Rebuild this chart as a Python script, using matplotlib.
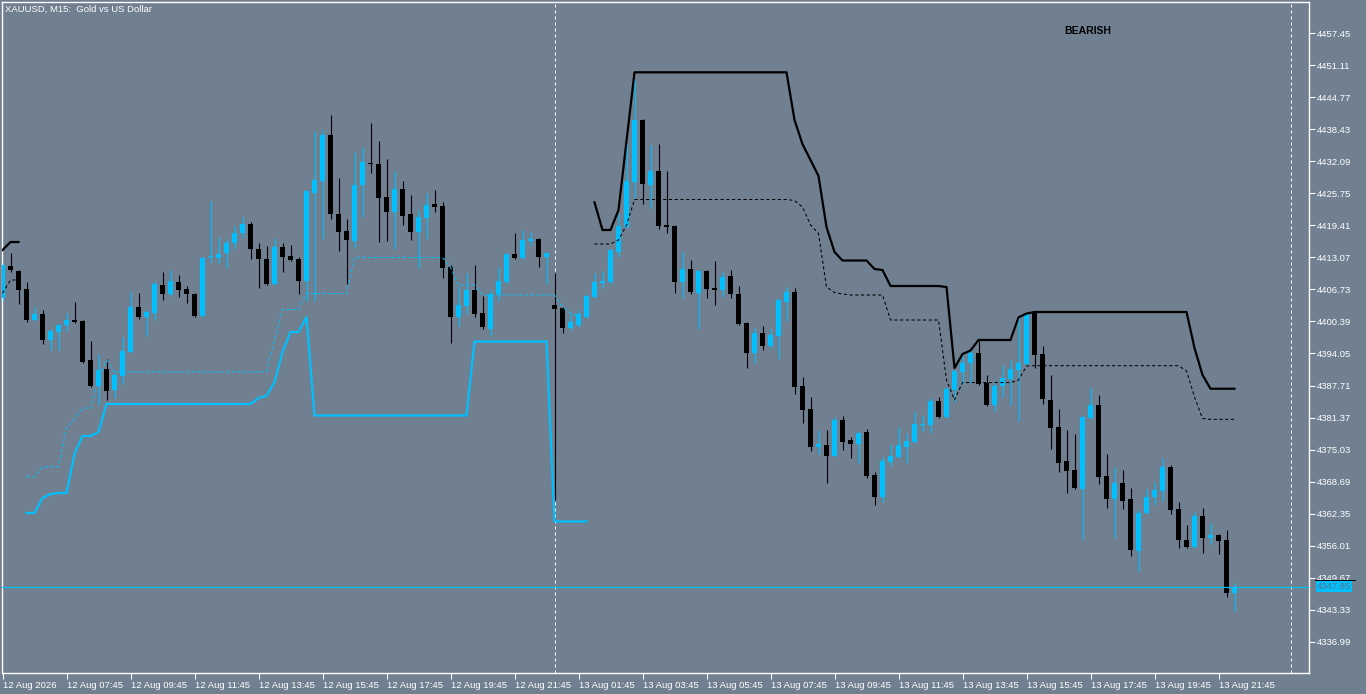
import matplotlib
matplotlib.use('Agg')
import matplotlib.pyplot as plt
import matplotlib.transforms as mtransforms

plt.rcParams['font.family'] = ['Liberation Sans', 'DejaVu Sans']

BG = '#708090'
BULL = '#00BFFF'
BEAR = '#000000'

# ---------------- candles (M15 bars, index 0 = 12 Aug 05:45) ----------------
opens = [4405.1, 4411.3, 4410.3, 4406.9, 4400.7, 4401.9, 4396.8, 4398.4, 4399.6, 4400.6,
         4400.4, 4392.8, 4387.7, 4390.9, 4386.9, 4389.5, 4394.3, 4403.3, 4401.3, 4402.1,
         4407.7, 4405.9, 4408.3, 4406.9, 4405.9, 4401.5, 4413.1, 4412.9, 4413.9, 4415.9,
         4417.9, 4419.7, 4414.7, 4412.7, 4407.9, 4415.1, 4413.3, 4412.7, 4408.5, 4425.9,
         4428.3, 4437.3, 4421.7, 4418.3, 4416.3, 4427.5, 4431.7, 4431.5, 4425.0, 4422.1,
         4426.7, 4421.7, 4418.1, 4420.9, 4423.7, 4423.3, 4411.1, 4401.3, 4403.5, 4406.7,
         4402.1, 4398.9, 4405.9, 4408.3, 4413.7, 4412.9, 4416.3, 4416.7, 4413.1, 4403.7,
         4403.1, 4399.1, 4399.7, 4401.3, 4405.3, 4408.1, 4408.3, 4414.1, 4419.1, 4428.1,
         4440.3, 4427.5, 4430.1, 4419.5, 4419.3, 4408.3, 4410.7, 4406.1, 4410.3, 4407.1,
         4406.7, 4409.3, 4405.9, 4400.1, 4394.1, 4398.1, 4395.5, 4397.5, 4404.3, 4406.3,
         4387.7, 4383.0, 4375.6, 4376.0, 4373.8, 4380.9, 4377.0, 4376.2, 4378.6, 4369.9,
         4365.7, 4372.6, 4373.6, 4375.6, 4376.6, 4379.9, 4379.9, 4384.6, 4381.4, 4386.9,
         4390.3, 4392.1, 4394.1, 4388.3, 4383.8, 4387.7, 4388.9, 4390.7, 4391.9, 4402.1,
         4393.9, 4384.9, 4379.4, 4372.8, 4370.9, 4367.3, 4381.2, 4383.8, 4369.7, 4365.3,
         4368.5, 4365.3, 4355.0, 4362.5, 4365.6, 4366.9, 4371.5, 4363.2, 4357.1, 4355.8,
         4361.9, 4357.5, 4358.1, 4357.1, 4346.6]
highs = [4412.0, 4414.0, 4410.5, 4408.3, 4403.3, 4402.7, 4398.8, 4399.8, 4402.0, 4404.3,
         4400.6, 4396.6, 4393.9, 4392.9, 4390.3, 4397.4, 4406.3, 4406.1, 4402.7, 4408.5,
         4410.1, 4410.5, 4409.5, 4407.5, 4406.1, 4413.1, 4424.2, 4417.1, 4416.7, 4419.3,
         4421.1, 4420.0, 4415.9, 4415.3, 4416.9, 4415.9, 4415.5, 4413.1, 4426.5, 4438.2,
         4438.3, 4441.3, 4428.7, 4420.7, 4433.9, 4434.9, 4439.7, 4436.1, 4432.5, 4430.1,
         4428.3, 4425.5, 4422.5, 4425.8, 4426.5, 4424.0, 4411.5, 4407.5, 4409.9, 4411.5,
         4405.5, 4406.7, 4411.1, 4413.9, 4417.9, 4418.5, 4418.1, 4416.9, 4414.1, 4409.9,
         4403.3, 4402.1, 4402.7, 4405.9, 4409.9, 4410.3, 4414.7, 4421.7, 4435.7, 4448.2,
         4440.5, 4435.3, 4435.5, 4430.1, 4419.5, 4414.1, 4412.5, 4410.5, 4410.5, 4412.3,
         4410.1, 4410.5, 4407.5, 4400.3, 4399.1, 4399.5, 4398.9, 4405.0, 4407.3, 4407.1,
         4389.3, 4385.5, 4378.8, 4378.8, 4381.4, 4381.7, 4377.6, 4378.6, 4379.0, 4370.5,
         4373.6, 4376.0, 4379.4, 4378.4, 4382.4, 4381.9, 4385.2, 4385.4, 4387.5, 4390.7,
         4393.5, 4394.9, 4396.5, 4389.7, 4388.5, 4391.7, 4392.7, 4401.0, 4402.1, 4402.3,
         4395.5, 4389.7, 4383.0, 4378.8, 4378.2, 4381.6, 4387.3, 4385.8, 4374.1, 4371.5,
         4370.9, 4367.5, 4363.1, 4367.3, 4368.7, 4373.4, 4371.9, 4364.6, 4360.0, 4362.7,
         4363.5, 4360.5, 4358.3, 4359.1, 4348.6]
lows = [4404.5, 4410.1, 4403.9, 4400.3, 4400.4, 4396.0, 4394.8, 4394.8, 4398.6, 4400.0,
        4392.2, 4387.5, 4383.8, 4384.9, 4385.3, 4388.1, 4394.2, 4400.8, 4397.6, 4400.7,
        4404.7, 4405.5, 4405.3, 4404.1, 4401.3, 4401.3, 4412.1, 4411.9, 4410.9, 4414.7,
        4417.1, 4412.7, 4407.1, 4407.7, 4407.7, 4410.1, 4412.3, 4405.9, 4404.5, 4404.5,
        4416.7, 4420.7, 4414.3, 4407.9, 4414.9, 4421.1, 4429.7, 4416.1, 4416.3, 4414.7,
        4419.4, 4416.5, 4410.9, 4416.7, 4422.1, 4408.9, 4396.2, 4399.5, 4401.9, 4401.3,
        4398.9, 4397.5, 4404.5, 4407.9, 4412.7, 4412.7, 4415.5, 4411.1, 4407.9, 4365.0,
        4398.1, 4398.7, 4399.3, 4401.1, 4405.1, 4407.1, 4407.9, 4413.1, 4418.9, 4424.5,
        4423.7, 4422.8, 4418.7, 4417.9, 4406.1, 4405.1, 4405.9, 4398.9, 4405.1, 4403.7,
        4405.3, 4405.1, 4399.7, 4391.1, 4392.1, 4394.7, 4395.1, 4392.9, 4400.4, 4386.1,
        4380.2, 4374.8, 4374.2, 4368.5, 4373.6, 4375.0, 4373.4, 4372.4, 4369.3, 4364.1,
        4364.7, 4371.8, 4373.4, 4372.4, 4376.3, 4378.7, 4378.3, 4381.2, 4381.2, 4384.4,
        4388.1, 4388.3, 4387.9, 4383.6, 4382.6, 4385.5, 4383.8, 4380.6, 4391.7, 4391.1,
        4384.0, 4375.2, 4370.5, 4366.4, 4367.3, 4357.4, 4381.0, 4368.3, 4363.5, 4357.5,
        4363.3, 4354.0, 4351.0, 4362.3, 4364.0, 4364.8, 4362.2, 4355.6, 4355.6, 4355.6,
        4354.6, 4356.3, 4354.4, 4345.9, 4343.1]
closes = [4411.5, 4410.5, 4406.7, 4400.7, 4401.9, 4396.8, 4398.6, 4399.6, 4400.6, 4400.2,
          4392.4, 4387.7, 4390.7, 4386.7, 4389.7, 4394.5, 4403.3, 4401.3, 4402.3, 4407.9,
          4405.9, 4408.5, 4406.7, 4405.9, 4401.5, 4412.9, 4413.3, 4413.7, 4415.9, 4417.9,
          4419.7, 4414.7, 4412.7, 4407.9, 4415.1, 4413.1, 4412.5, 4408.5, 4426.3, 4428.5,
          4437.3, 4421.7, 4418.1, 4416.5, 4427.5, 4431.9, 4431.5, 4424.8, 4422.1, 4426.7,
          4421.3, 4418.1, 4421.1, 4423.5, 4423.1, 4410.9, 4401.3, 4403.7, 4406.7, 4401.9,
          4399.3, 4405.9, 4408.5, 4413.7, 4412.9, 4416.5, 4416.7, 4413.1, 4413.9, 4402.9,
          4399.1, 4400.3, 4401.9, 4405.5, 4408.3, 4408.5, 4414.5, 4419.3, 4428.3, 4440.3,
          4427.7, 4430.1, 4419.3, 4419.1, 4408.3, 4410.7, 4406.3, 4410.3, 4406.9, 4406.7,
          4409.1, 4405.9, 4399.9, 4394.1, 4398.1, 4395.5, 4397.7, 4404.7, 4406.3, 4387.5,
          4382.8, 4375.6, 4376.2, 4373.8, 4380.9, 4376.6, 4376.2, 4378.4, 4369.7, 4365.7,
          4372.8, 4373.8, 4376.0, 4376.8, 4380.0, 4380.1, 4384.6, 4381.4, 4387.1, 4390.5,
          4392.1, 4394.1, 4388.1, 4383.8, 4387.7, 4389.1, 4390.9, 4392.1, 4401.9, 4393.7,
          4385.1, 4379.2, 4372.4, 4370.7, 4367.5, 4381.4, 4383.8, 4369.5, 4365.3, 4368.5,
          4364.9, 4355.2, 4362.5, 4365.6, 4367.1, 4371.5, 4363.0, 4357.1, 4355.8, 4361.9,
          4357.5, 4358.1, 4356.9, 4346.6, 4347.85]

# ---------------- indicator lines ----------------
support_start = 3
support_main = [4362.46, 4362.46, 4365.43, 4366.22, 4366.42, 4366.42, 4374.14, 4377.71, 4377.71, 4378.50,
                4384.04, 4384.04, 4384.04, 4384.04, 4384.04, 4384.04, 4384.04, 4384.04, 4384.04, 4384.04,
                4384.04, 4384.04, 4384.04, 4384.04, 4384.04, 4384.04, 4384.04, 4384.04, 4384.04,
                4385.23, 4385.63, 4388.40, 4394.34, 4398.30, 4398.30, 4401.27,
                4381.77, 4381.77, 4381.77, 4381.77, 4381.77, 4381.77, 4381.77, 4381.77, 4381.77, 4381.77,
                4381.77, 4381.77, 4381.77, 4381.77, 4381.77, 4381.77, 4381.77, 4381.77, 4381.77, 4381.77,
                4396.42, 4396.42, 4396.42, 4396.42, 4396.42, 4396.42, 4396.42, 4396.42, 4396.42, 4396.42,
                4360.78, 4360.78, 4360.78, 4360.78, 4360.78]
support_dash = [4369.65, 4369.65, 4371.63, 4371.63, 4371.63, 4379.29, 4381.07, 4383.25, 4383.25, 4389.19,
                4392.76,
                4390.44, 4390.44, 4390.44, 4390.44, 4390.44, 4390.44, 4390.44, 4390.44, 4390.44, 4390.44,
                4390.44, 4390.44, 4390.44, 4390.44, 4390.44, 4390.44, 4390.44, 4390.44, 4390.44, 4390.44,
                4396.72, 4402.76, 4402.76, 4402.76,
                4405.93, 4405.93, 4405.93, 4405.93, 4405.93, 4405.93,
                4413.05, 4413.05, 4413.05, 4413.05, 4413.05, 4413.05, 4413.05, 4413.05, 4413.05, 4413.05,
                4413.05, 4413.05,
                4411.17, 4407.61, 4407.61, 4407.61,
                4405.63, 4405.63, 4405.63, 4405.63, 4405.63, 4405.63, 4405.63, 4405.63, 4405.63, 4405.63,
                4403.25, 4402.06, 4401.47]

resist_early_start = 0
resist_early_main = [4414.54, 4416.12, 4416.12]
resist_early_dash = [4406.0, 4408.6, 4408.6]

resist_start = 74
resist_main = [4423.98, 4418.50, 4418.50, 4422.46, 4436.12,
               4449.73, 4449.73, 4449.73, 4449.73, 4449.73, 4449.73, 4449.73, 4449.73, 4449.73, 4449.73,
               4449.73, 4449.73, 4449.73, 4449.73, 4449.73, 4449.73, 4449.73, 4449.73, 4449.73, 4449.73,
               4440.28, 4435.50, 4432.36, 4429.19, 4419.09, 4414.14,
               4412.46, 4412.46, 4412.46, 4412.46,
               4410.78, 4410.58,
               4407.41, 4407.41, 4407.41, 4407.41, 4407.41, 4407.41, 4407.41,
               4407.21, 4391.17, 4393.95, 4394.64,
               4396.72, 4396.72, 4396.72, 4396.72, 4396.72,
               4401.21, 4401.96,
               4402.26, 4402.26, 4402.26, 4402.26, 4402.26, 4402.26, 4402.26, 4402.26, 4402.26, 4402.26,
               4402.26, 4402.26, 4402.26, 4402.26, 4402.26, 4402.26, 4402.26, 4402.26, 4402.26, 4402.26,
               4395.13, 4389.79,
               4387.07, 4387.07, 4387.07, 4387.07]
resist_dash = [4415.73, 4415.73, 4415.73, 4416.52, 4419.49,
               4424.54, 4424.54, 4424.54, 4424.54, 4424.54, 4424.54, 4424.54, 4424.54, 4424.54, 4424.54,
               4424.54, 4424.54, 4424.54, 4424.54, 4424.54, 4424.54, 4424.54, 4424.54, 4424.54, 4424.54,
               4424.34, 4423.05, 4419.50, 4417.80, 4407.20, 4406.12, 4405.83,
               4405.63, 4405.63, 4405.63, 4405.63, 4405.63,
               4400.68, 4400.68, 4400.68, 4400.68, 4400.68, 4400.68, 4400.68,
               4388.80, 4384.84,
               4388.30, 4388.30, 4388.30, 4388.30, 4388.30, 4388.30, 4388.30,
               4388.75, 4391.57,
               4391.63, 4391.63, 4391.63, 4391.63, 4391.63, 4391.63, 4391.63, 4391.63, 4391.63, 4391.63,
               4391.63, 4391.63, 4391.63, 4391.63, 4391.63, 4391.63, 4391.63, 4391.63, 4391.63,
               4390.58, 4385.43, 4381.17,
               4381.01, 4381.01, 4381.01, 4381.01]

# ---------------- axes labels ----------------
price_ticks = [4336.99, 4343.33, 4349.67, 4356.01, 4362.35, 4368.69, 4375.03, 4381.37, 4387.71,
               4394.05, 4400.39, 4406.73, 4413.07, 4419.41, 4425.75, 4432.09, 4438.43, 4444.77,
               4451.11, 4457.45]
time_tick_idx = [0, 8, 16, 24, 32, 40, 48, 56, 64, 72, 80, 88, 96, 104, 112, 120, 128, 136, 144, 152]
time_tick_labels = ['12 Aug 2026', '12 Aug 07:45', '12 Aug 09:45', '12 Aug 11:45', '12 Aug 13:45',
                    '12 Aug 15:45', '12 Aug 17:45', '12 Aug 19:45', '12 Aug 21:45', '13 Aug 01:45',
                    '13 Aug 03:45', '13 Aug 05:45', '13 Aug 07:45', '13 Aug 09:45', '13 Aug 11:45',
                    '13 Aug 13:45', '13 Aug 15:45', '13 Aug 17:45', '13 Aug 19:45', '13 Aug 21:45']
separator_idx = [69, 161]
bid_price = 4347.85

# ---------------- figure ----------------
W, H = 1366, 694
fig = plt.figure(figsize=(W / 100, H / 100), dpi=100, facecolor=BG)
ax = fig.add_axes([2 / W, 1 - 673 / H, (1309 - 2) / W, (673 - 2) / H], facecolor=BG)

n = len(opens)
xs = list(range(n))
cols = [BULL if c >= o else BEAR for o, c in zip(opens, closes)]
bottoms = [min(o, c) for o, c in zip(opens, closes)]
heights = [max(abs(c - o), 0.22) for o, c in zip(opens, closes)]

wicks = ax.vlines(xs, lows, highs, colors=cols, linewidth=0.8, zorder=2)
wicks.set_snap(True)
ax.bar(xs, heights, bottom=bottoms, width=0.62, color=cols, linewidth=0, zorder=3)

def xr(start, vals):
    return list(range(start, start + len(vals)))

ax.plot(xr(support_start, support_main), support_main, color=BULL, lw=1.6, zorder=4)
ax.plot(xr(support_start, support_dash), support_dash, color=BULL, lw=0.75,
        ls=(0, (3, 2.5)), zorder=4)
ax.plot(xr(resist_early_start, resist_early_main), resist_early_main, color=BEAR, lw=1.6, zorder=4)
ax.plot(xr(resist_early_start, resist_early_dash), resist_early_dash, color=BEAR, lw=0.75,
        ls=(0, (3, 2.5)), zorder=4)
ax.plot(xr(resist_start, resist_main), resist_main, color=BEAR, lw=1.6, zorder=4)
ax.plot(xr(resist_start, resist_dash), resist_dash, color=BEAR, lw=0.75,
        ls=(0, (3, 2.5)), zorder=4)

for s in separator_idx:
    ax.axvline(s, color='white', lw=0.72, ls=(0, (3, 3)), zorder=1, snap=True)

ax.axhline(bid_price, color=BULL, lw=0.9, zorder=5.5, snap=True)

ax.set_xlim(-0.0625, 163.31)
ax.set_ylim(4330.78, 4463.65)

for sp in ax.spines.values():
    sp.set_color('white')
    sp.set_linewidth(1.0)

ax.yaxis.tick_right()
ax.set_yticks(price_ticks)
ax.set_yticklabels([f'{p:.2f}' for p in price_ticks])
ax.tick_params(axis='y', direction='out', length=4, width=0.8, colors='white',
               labelsize=6.8, pad=1.5)
ax.set_xticks(time_tick_idx)
ax.set_xticklabels(time_tick_labels)
ax.tick_params(axis='x', direction='out', length=4, width=0.8, colors='white',
               labelsize=6.8, pad=2)
for lab in ax.get_xticklabels():
    lab.set_horizontalalignment('left')

trans = mtransforms.blended_transform_factory(ax.transAxes, ax.transData)
ax.text(1.0, bid_price, f'{bid_price:.2f}', transform=trans +
        mtransforms.ScaledTranslation(8 / 100, 0, fig.dpi_scale_trans),
        ha='left', va='center', fontsize=6.8, color='#5f7080', clip_on=False, zorder=6,
        bbox=dict(boxstyle='square,pad=0.12', fc=BULL, ec='none'))
ax.plot([1.0 + 6 / 1307, 1.0 + 46 / 1307], [4349.15, 4349.15], transform=trans,
        color='black', lw=0.7, clip_on=False, zorder=6)

fig.text(5 / W, 1 - 9 / H, 'XAUUSD, M15:  Gold vs US Dollar', color='white', fontsize=6.8,
         ha='left', va='center')
fig.text(1088 / W, 1 - 31 / H, 'BEARISH', color='black', fontsize=7.5, fontweight='bold',
         ha='center', va='center')

fig.savefig('out.png', dpi=100, facecolor=BG)
